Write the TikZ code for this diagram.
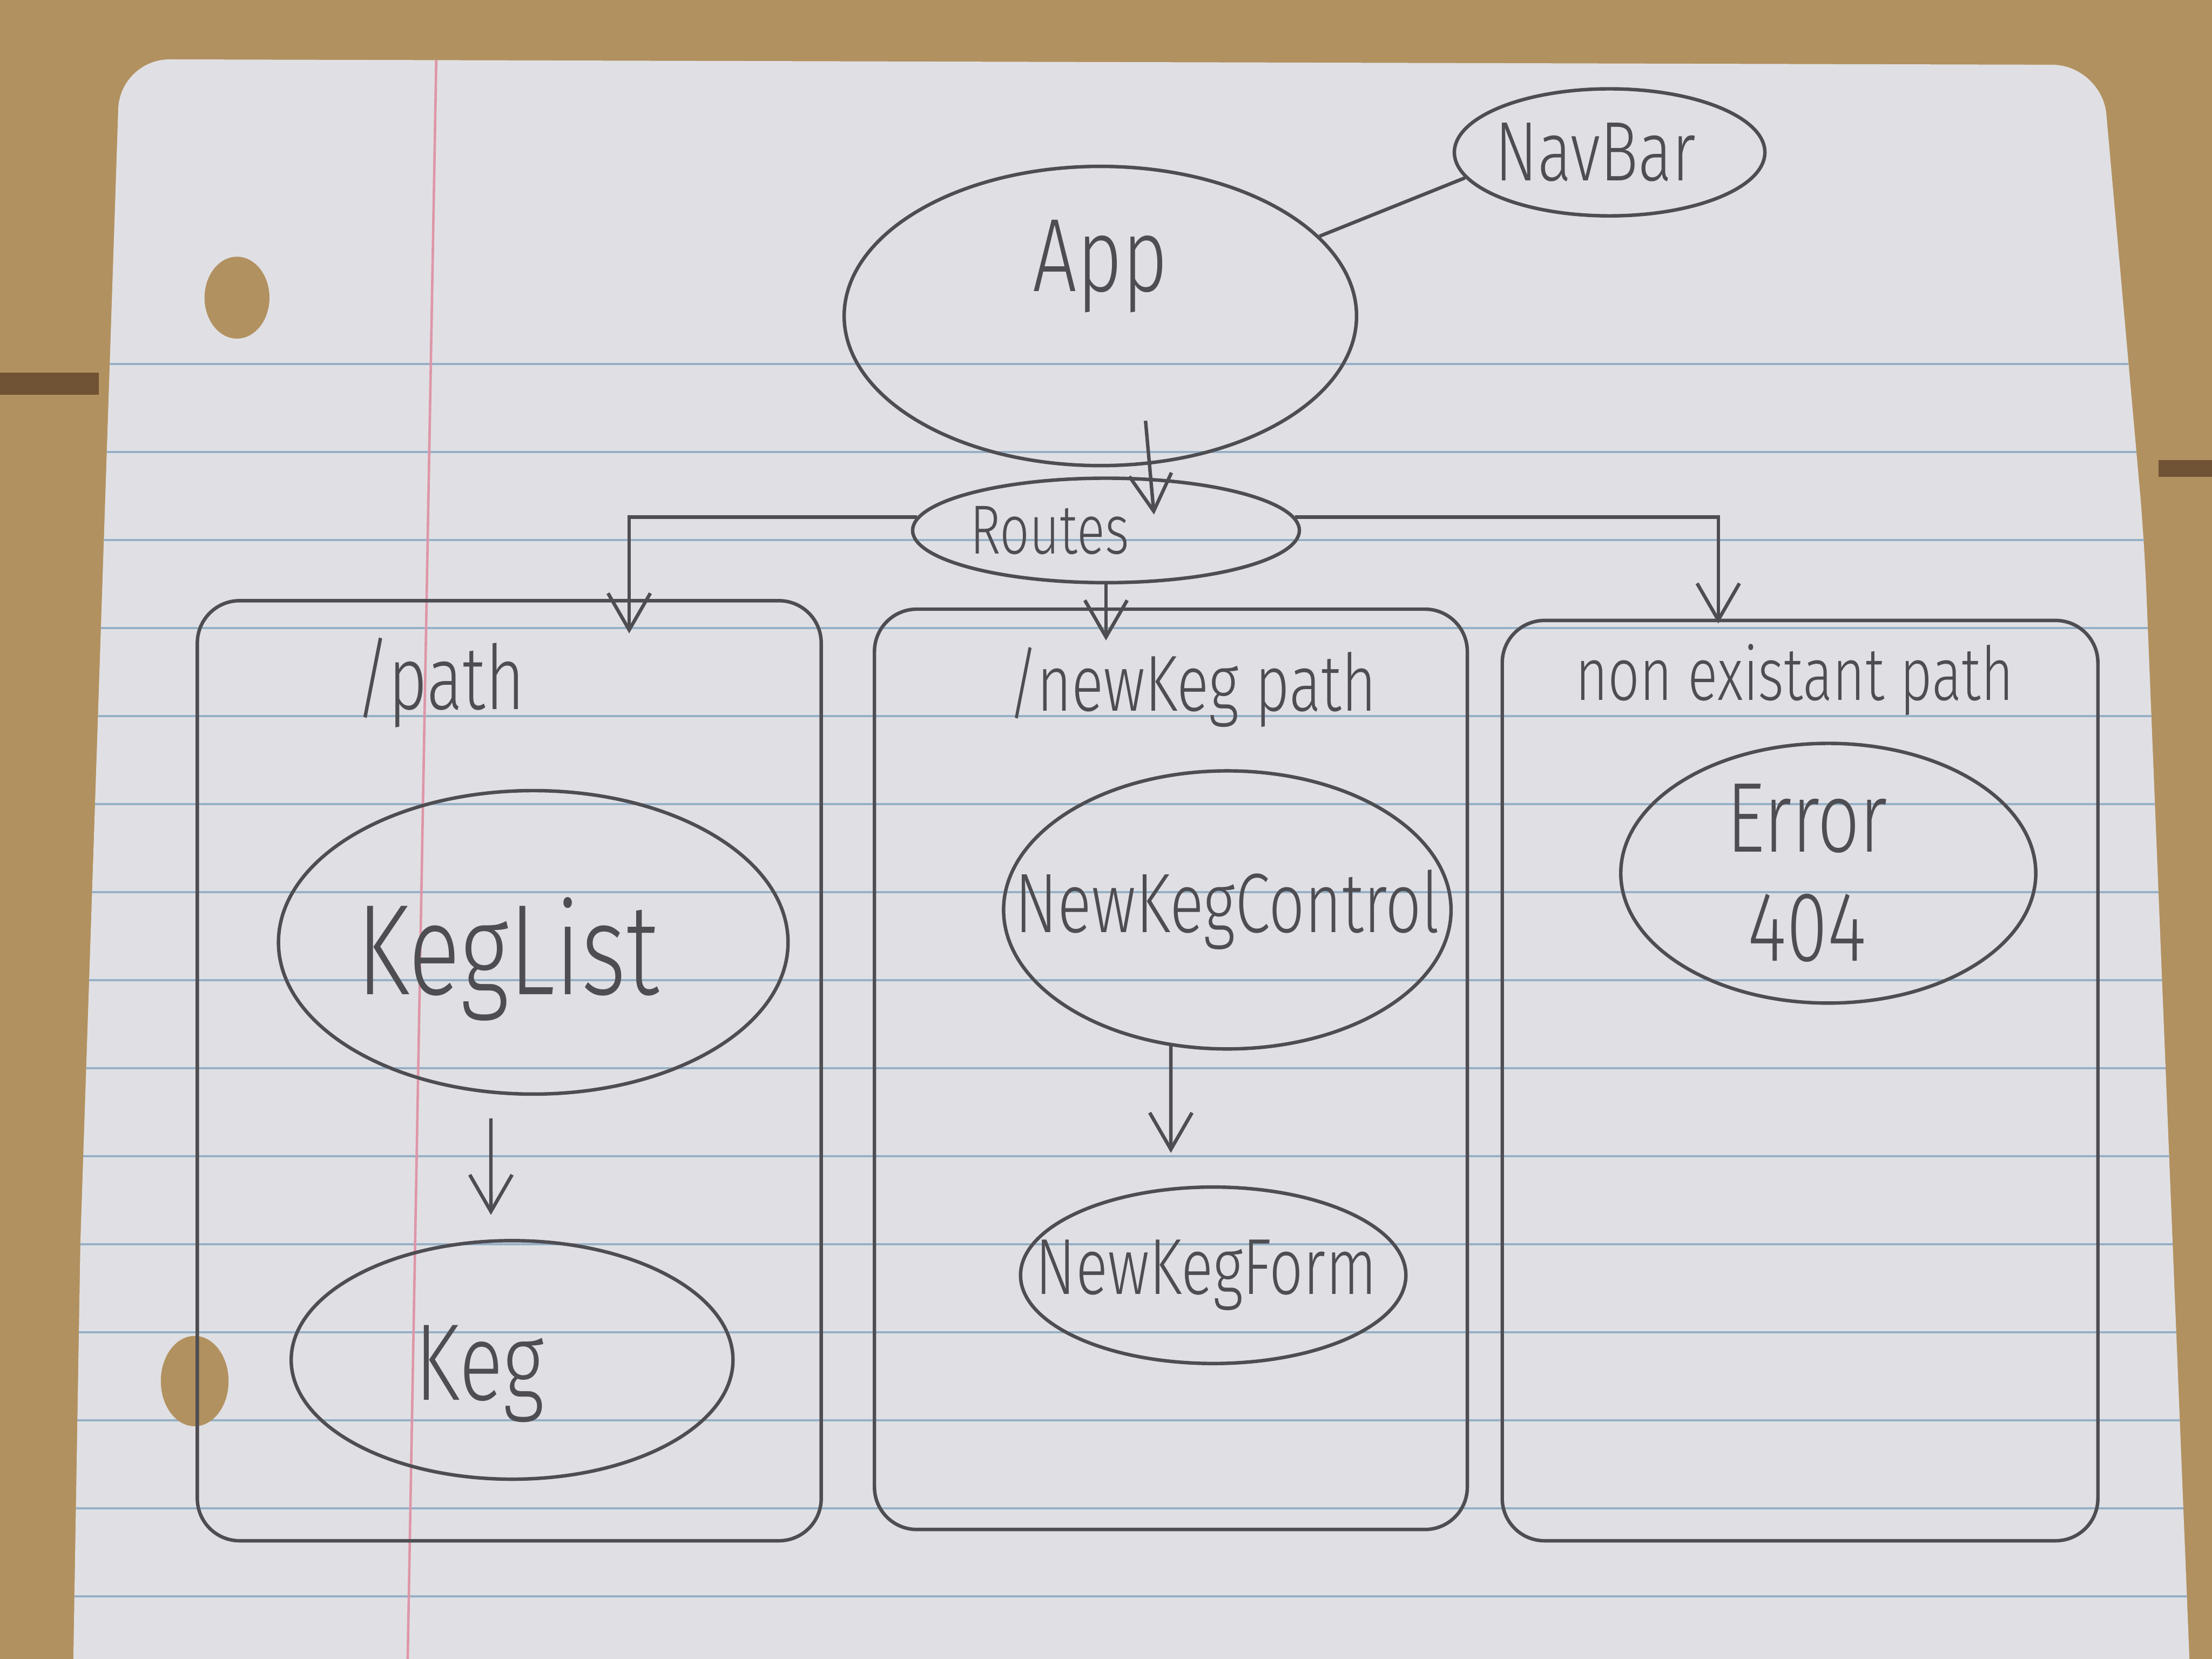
\documentclass[tikz,border=0pt]{standalone}
\usepackage{fontspec}
\setmainfont{Fira Sans Light}[FakeStretch=0.75]
\usetikzlibrary{shapes.geometric,arrows.meta}
\definecolor{wood}{RGB}{178,145,96}
\definecolor{plank}{RGB}{112,82,52}
\definecolor{paper}{RGB}{224,224,228}
\definecolor{ruling}{RGB}{150,176,198}
\definecolor{margin}{RGB}{222,150,168}
\definecolor{pencil}{RGB}{78,78,82}
\newcommand\hand[1]{\fontsize{#1}{#1}\selectfont}
\tikzset{
	blob/.style={ellipse,draw=pencil,line width=.7pt,inner sep=0pt},
	tag/.style={text=pencil},
	routebox/.style={rectangle,draw=pencil,line width=.7pt,rounded corners=3mm,inner sep=0pt},
	link/.style={draw=pencil,line width=.7pt},
	arr/.style={link,-{Straight Barb[length=2.6mm,width=3mm]}},
}
\begin{document}
\begin{tikzpicture}[x=.01cm,y=-.01cm]
		% table and sheet
			\fill[wood] (0,0) rectangle (1568,1176);
			\useasboundingbox (0,0) rectangle (1568,1176);
			\fill[plank] (0,264) rectangle (70,280);
			\fill[plank] (1530,326) rectangle (1568,338);
			\fill[paper] (52,1176) -- (57,880) [rounded corners=10pt] -- (85,42) -- (1490,46) -- (1520,383) [sharp corners] -- (1552,1176) -- cycle;
			\begin{scope}
				\clip (52,1176) -- (57,880) -- (85,42) -- (1490,46) -- (1520,383) -- (1552,1176) -- cycle;
				\foreach \k in {0,...,14}{
					\draw[ruling,line width=.5pt] (0,{258+62.4*\k}) -- (1568,{258+62.4*\k});
					}
				\draw[margin,line width=.5pt] (310,0) -- (289,1176);
			\end{scope}
			\fill[wood] (168,211) ellipse [x radius=2.3mm,y radius=2.9mm];
			\fill[wood] (138,979) ellipse [x radius=2.4mm,y radius=3.2mm];
		% top of the tree
			\node[blob,minimum width=3.63cm,minimum height=2.12cm,label={[tag,font=\hand{21},yshift=3.5mm]center:App}] (app) at (780,224) {};
			\node[blob,minimum width=2.2cm,minimum height=.9cm,label={[tag,font=\hand{17},xshift=-1mm]center:NavBar}] (navbar) at (1141,108) {};
			\node[blob,minimum width=2.74cm,minimum height=.74cm,label={[tag,font=\hand{14},xshift=-4mm]center:Routes}] (routes) at (784,376) {};
		% one box per path
			\foreach \nm/\cx/\cy/\w/\h in {box1/361/759/4.42/6.66,box2/830/758/4.2/6.52,box3/1276/766/4.22/6.52}{
				\node[routebox,minimum width=\w cm,minimum height=\h cm] (\nm) at (\cx,\cy) {};
				}
			\node[tag,font=\hand{18}] (pathlbl) at (312,484) {/path};
			\node[tag,font=\hand{16}] (newkeglbl) at (845,487) {/newKeg path};
			\node[tag,font=\hand{15}] (nonlbl) at (1272,482) {non existant path};
		% components inside the boxes
			\node[blob,minimum width=3.61cm,minimum height=2.15cm,label={[tag,font=\hand{26},xshift=-1.8mm,yshift=-1.2mm]center:KegList}] (keglist) at (378,668) {};
			\node[blob,minimum width=3.13cm,minimum height=1.69cm,label={[tag,font=\hand{22},xshift=-2.3mm,yshift=-1mm]center:Keg}] (keg) at (363,964) {};
			\node[blob,minimum width=3.17cm,minimum height=1.97cm,label={[tag,font=\hand{17}]center:NewKegControl}] (newkegcontrol) at (870,645) {};
			\node[blob,minimum width=2.73cm,minimum height=1.25cm,label={[tag,font=\hand{16},xshift=-.5mm]center:NewKegForm}] (newkegform) at (860,904) {};
			\node[blob,minimum width=2.94cm,minimum height=1.84cm,label={[tag,align=center,font=\fontsize{20}{22}\selectfont,xshift=-1.5mm]center:{Error\\404}}] (error) at (1296,619) {};
		% connectors
			\draw[link] (app.20) -- (navbar.190);
			\draw[arr] ([xshift=3.2mm,yshift=3.3mm]app.south) -- ([xshift=3.4mm,yshift=-2.7mm]routes.north);
			\coordinate (in1) at (446,449);
			\coordinate (in2) at (784,454);
			\coordinate (in3) at (1218,442);
			\draw[arr] (routes.176) -| (in1);
			\draw[arr] (routes.south) -- (in2);
			\draw[arr] (routes.4) -| (in3);
			\draw[arr] ([xshift=-3mm,yshift=-1.6mm]keglist.south) -- ([xshift=-1.5mm,yshift=1.7mm]keg.north);
			\draw[arr] ([xshift=-4mm,yshift=.4mm]newkegcontrol.south) -- ([xshift=-3mm,yshift=2.3mm]newkegform.north);
	\end{tikzpicture}
\end{document}
